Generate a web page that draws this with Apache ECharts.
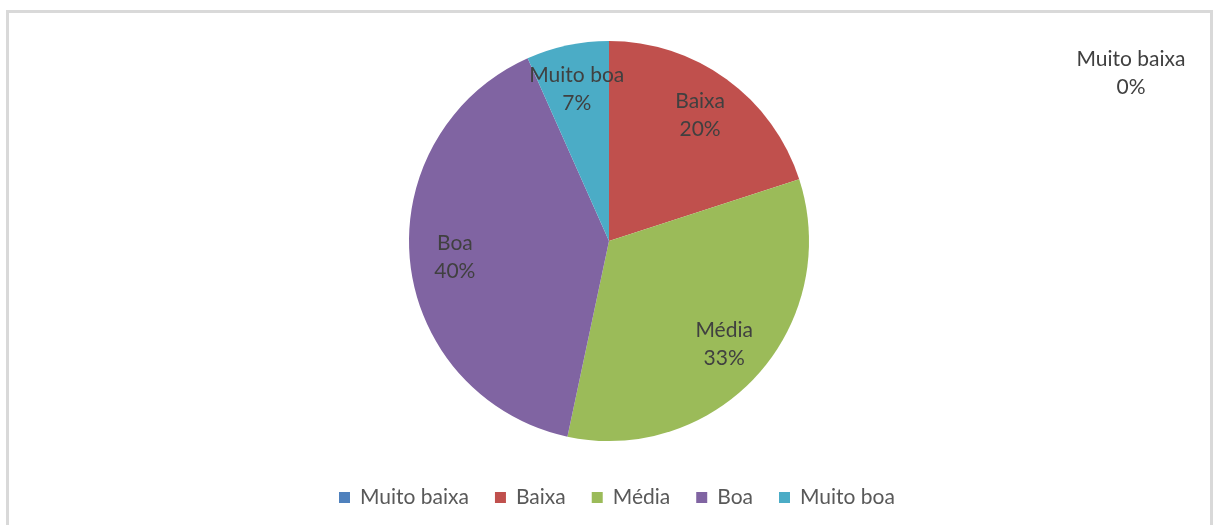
<!DOCTYPE html>
<html>
<head>
<meta charset="utf-8">
<script src="https://cdn.jsdelivr.net/npm/echarts@6/dist/echarts.min.js"></script>
<style>
  body { margin: 0; background: #fff; }
  #main { position: absolute; left: 0; top: 0; width: 1213px; height: 525px; }
  #frame { position: absolute; left: 6px; top: 10px; width: 1207px; height: 530px;
           border: 3px solid #d9d9d9; box-sizing: border-box; pointer-events: none; }
</style>
</head>
<body>
<div id="main"></div>
<div id="frame"></div>
<script>
// categorias e contagens
var categories = ["Muito baixa", "Baixa", "Média", "Boa", "Muito boa"];
var counts = [0, 3, 5, 6, 1];
var colors = ["#4f81bd", "#c0504d", "#9bbb59", "#8064a2", "#4bacc6"];

var pieData = categories.map(function (c, i) {
  return { name: c, value: counts[i], itemStyle: { color: colors[i] } };
});

var myChart = echarts.init(document.getElementById("main"));
var font = "Lato, 'Open Sans', sans-serif";
var option = {
  animation: false,
  legend: {
    data: categories,
    left: 334,
    top: 482,
    itemWidth: 11,
    itemHeight: 11,
    itemGap: 26,
    icon: "rect",
    textStyle: { fontFamily: font, fontSize: 21, color: "#595959", padding: [0, 0, 0, 5] }
  },
  series: [
    {
      type: "pie",
      center: [609, 241],
      radius: [0, 200],
      startAngle: 90,
      clockwise: true,
      silent: true,
      label: { show: false },
      labelLine: { show: false },
      data: pieData
    },
    {
      // só os rótulos, um pouco mais para fora
      type: "pie",
      center: [609, 241],
      radius: [104, 200],
      startAngle: 90,
      clockwise: true,
      silent: true,
      itemStyle: { color: "transparent" },
      labelLine: { show: false },
      label: {
        show: true,
        position: "inside",
        fontFamily: font,
        fontSize: 21,
        lineHeight: 28,
        color: "#404040",
        formatter: function (p) {
          return p.name + "\n" + Math.round(p.percent) + "%";
        }
      },
      labelLayout: function (p) {
        if (p.dataIndex === 0) return { x: 1131, y: 73 };
      },
      data: categories.map(function (c, i) {
        return { name: c, value: counts[i] };
      })
    }
  ]
};
myChart.setOption(option);
</script>
</body>
</html>
